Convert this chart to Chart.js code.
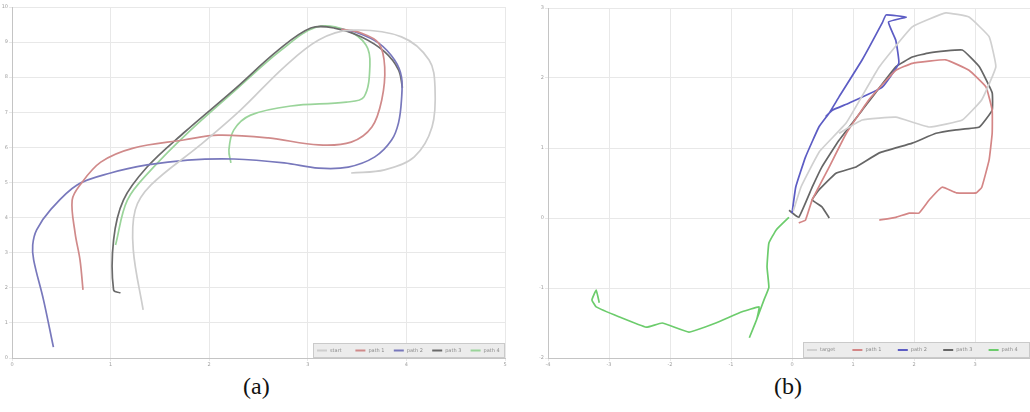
<!DOCTYPE html>
<html lang="en">
<head>
<meta charset="UTF-8">
<title>Trajectories</title>
<script src="https://cdn.jsdelivr.net/npm/chart.js"></script>
<style>
  body { margin: 0; background: #fff; width: 1030px; height: 412px; position: relative; overflow: hidden; }
  canvas { position: absolute; }
  .cap { position: absolute; top: 373px; font-family: "Liberation Serif", serif; font-size: 24px; color: #111; }
</style>
</head>
<body>
<canvas id="cA" width="512" height="370" style="left:0px;top:0px"></canvas>
<canvas id="cB" width="494" height="370" style="left:536px;top:0px"></canvas>
<div class="cap" style="left:243px">(a)</div>
<div class="cap" style="left:774px">(b)</div>
<script>
// ---- panel (a) ----
const aTicksX = [0, 1, 2, 3, 4, 5];
const aTicksY = [0, 1, 2, 3, 4, 5, 6, 7, 8, 9, 10];
const aLabels = ['start', 'path 1', 'path 2', 'path 3', 'path 4'];
const aBlue = [[0.42,0.31],[0.32,1.65],[0.22,2.79],[0.21,3.22],[0.25,3.65],[0.39,4.22],[0.66,4.93],[1.00,5.27],[1.37,5.50],[1.78,5.64],[2.25,5.67],[2.76,5.56],[3.11,5.41],[3.41,5.44],[3.68,5.73],[3.85,6.21],[3.92,6.70],[3.95,7.35],[3.95,8.01],[3.88,8.49],[3.72,8.97],[3.51,9.26],[3.34,9.37]];
const aRed = [[0.72,1.94],[0.69,2.79],[0.64,3.56],[0.61,4.50],[0.69,4.93],[0.90,5.58],[1.23,5.98],[1.74,6.21],[2.09,6.35],[2.60,6.27],[3.11,6.07],[3.44,6.15],[3.65,6.58],[3.75,7.35],[3.78,8.29],[3.72,8.97],[3.54,9.26],[3.34,9.37]];
const aDark = [[1.10,1.85],[1.03,1.94],[1.03,3.36],[1.13,4.50],[1.37,5.44],[1.74,6.41],[2.25,7.64],[2.70,8.77],[3.03,9.40],[3.27,9.40],[3.54,9.15],[3.78,8.72],[3.92,8.21],[3.96,7.70]];
const aGreen = [[1.05,3.22],[1.17,4.50],[1.41,5.36],[1.78,6.41],[2.29,7.69],[2.73,8.77],[3.09,9.43],[3.39,9.34],[3.59,8.92],[3.63,8.35],[3.57,7.44],[3.39,7.29],[2.83,7.18],[2.42,6.92],[2.25,6.50],[2.20,5.93],[2.22,5.56]];
const aGrey = [[1.33,1.37],[1.23,3.08],[1.25,4.22],[1.41,4.93],[1.91,6.07],[2.32,7.07],[2.76,8.29],[3.11,9.06],[3.44,9.34],[3.95,9.15],[4.23,8.49],[4.29,7.72],[4.26,6.58],[4.08,5.73],[3.78,5.36],[3.44,5.27]];

// ---- panel (b) ----
const bTicksX = [-4, -3, -2, -1, 0, 1, 2, 3];
const bTicksY = [-2, -1, 0, 1, 2, 3];
const bLabels = ['target', 'path 1', 'path 2', 'path 3', 'path 4'];
const bGreen = [[-0.05,0.01],[-0.26,-0.17],[-0.38,-0.36],[-0.41,-0.70],[-0.38,-0.99],[-0.46,-1.17],[-0.58,-1.45],[-0.70,-1.71],[-0.58,-1.45],[-0.54,-1.27],[-0.82,-1.34],[-1.25,-1.50],[-1.69,-1.63],[-2.13,-1.50],[-2.39,-1.56],[-2.84,-1.41],[-3.21,-1.27],[-3.28,-1.17],[-3.21,-1.03],[-3.16,-1.21]];
const bBlue = [[0.00,0.07],[0.06,0.44],[0.22,0.87],[0.44,1.30],[0.61,1.50],[0.77,1.73],[1.15,2.26],[1.48,2.79],[1.54,2.90],[1.87,2.87],[1.58,2.80],[1.70,2.54],[1.75,2.21],[1.48,1.87],[0.93,1.64],[0.66,1.54],[0.55,1.45]];
const bRed = [[0.11,-0.07],[0.22,-0.03],[0.33,0.26],[0.61,0.73],[0.89,1.21],[1.26,1.69],[1.70,2.11],[1.97,2.21],[2.52,2.26],[2.90,2.11],[3.18,1.87],[3.28,1.54],[3.28,1.21],[3.23,0.83],[3.11,0.44],[3.02,0.36],[2.69,0.36],[2.46,0.44],[2.25,0.26],[2.08,0.07],[1.92,0.07],[1.70,0.01],[1.43,-0.03]];
const bDark = [[-0.05,0.11],[0.11,0.01],[0.33,0.44],[0.49,0.73],[0.77,1.11],[1.15,1.54],[1.70,2.16],[1.97,2.30],[2.25,2.36],[2.79,2.40],[3.07,2.16],[3.28,1.79],[3.28,1.54],[3.07,1.30],[2.69,1.26],[2.36,1.21],[1.97,1.07],[1.43,0.93],[1.05,0.73],[0.72,0.64],[0.44,0.40],[0.33,0.26],[0.49,0.16],[0.61,0.00]];
const bGrey = [[0.02,0.10],[0.15,0.45],[0.45,0.95],[0.89,1.36],[1.43,2.16],[1.97,2.73],[2.52,2.93],[2.90,2.87],[3.23,2.59],[3.34,2.16],[3.11,1.69],[2.79,1.40],[2.25,1.30],[1.70,1.44],[1.15,1.40],[0.77,1.21]];

// grey, red, blue, dark, green
const colorsA = ['#cdcdcd', '#d08a8a', '#7878bc', '#6a6a6a', '#9ad49a'];
const colorsB = ['#d0d0d0', '#d48686', '#5c5cc4', '#666666', '#6ccc6c'];

function pts(arr) { return arr.map(p => ({ x: p[0], y: p[1] })); }

const boxLegend = {
  id: 'boxLegend',
  afterDraw(chart, args, opts) {
    const ctx = chart.ctx, a = chart.chartArea;
    const w = opts.width, h = opts.height;
    const x0 = a.right - w, y0 = a.bottom - h;
    ctx.save();
    ctx.fillStyle = '#ececec';
    ctx.strokeStyle = '#cacaca';
    ctx.fillRect(x0, y0, w, h);
    ctx.strokeRect(x0 + 0.5, y0 + 0.5, w - 1, h - 1);
    ctx.font = '5px "DejaVu Sans"';
    ctx.textBaseline = 'middle';
    const step = w / chart.data.datasets.length;
    chart.data.datasets.forEach((ds, i) => {
      const x = x0 + 4 + i * step, y = y0 + h / 2;
      ctx.strokeStyle = ds.borderColor;
      ctx.lineWidth = 2;
      ctx.beginPath(); ctx.moveTo(x, y); ctx.lineTo(x + 10, y); ctx.stroke();
      ctx.fillStyle = '#8a8a8a';
      ctx.fillText(ds.label, x + 13, y);
    });
    ctx.restore();
  }
};

function makeChart(id, series, labels, colors, ticksX, ticksY, xr, yr, tension, legendW, legendH, padTop, padRight) {
  return new Chart(document.getElementById(id), {
    type: 'scatter',
    data: {
      datasets: series.map((s, i) => ({
        label: labels[i],
        data: pts(s),
        showLine: true,
        borderColor: colors[i],
        borderWidth: 1.7,
        pointRadius: 0,
        tension: tension
      }))
    },
    options: {
      responsive: false,
      animation: false,
      layout: { padding: { top: padTop, right: padRight, left: 0, bottom: 0 } },
      plugins: { legend: { display: false }, tooltip: { enabled: false }, boxLegend: { width: legendW, height: legendH } },
      scales: {
        x: {
          type: 'linear', min: xr[0], max: xr[1],
          afterBuildTicks: sc => { sc.ticks = ticksX.map(v => ({ value: v })); },
          afterFit: sc => { sc.height = 12; },
          grid: { color: '#e8e8e8', tickLength: 3 },
          border: { color: '#c4c4c4' },
          ticks: { font: { size: 5, family: 'DejaVu Sans' }, color: '#a0a0a0', padding: 1 }
        },
        y: {
          type: 'linear', min: yr[0], max: yr[1],
          afterBuildTicks: sc => { sc.ticks = ticksY.map(v => ({ value: v })); },
          afterFit: sc => { sc.width = 12; },
          grid: { color: '#e8e8e8', tickLength: 3 },
          border: { color: '#c4c4c4' },
          ticks: { font: { size: 5, family: 'DejaVu Sans' }, color: '#a0a0a0', padding: 1 }
        }
      }
    },
    plugins: [boxLegend]
  });
}

makeChart('cA', [aGrey, aRed, aBlue, aDark, aGreen], aLabels, colorsA, aTicksX, aTicksY, [0, 5], [0, 10], 0.35, 192, 15, 7, 7);
makeChart('cB', [bGrey, bRed, bBlue, bDark, bGreen], bLabels, colorsB, bTicksX, bTicksY, [-4, 3.9], [-2, 3], 0.1, 227, 16, 8, 0);
</script>
</body>
</html>
